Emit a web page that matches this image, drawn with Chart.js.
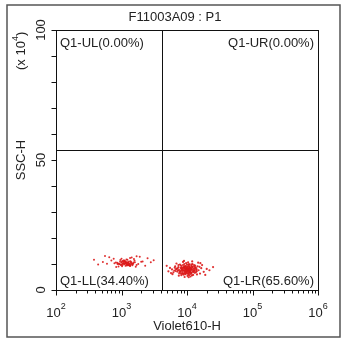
<!DOCTYPE html>
<html>
<head>
<meta charset="utf-8">
<script src="https://cdn.jsdelivr.net/npm/chart.js@4/dist/chart.umd.min.js"></script>
<style>
  html, body { margin: 0; padding: 0; background: #fff; }
  #wrap { width: 347px; height: 344px; position: relative; }
</style>
</head>
<body>
<div id="wrap"><canvas id="plot"></canvas></div>
<script>
// plot title and axis names
const title = 'F11003A09 : P1';
const xTitle = 'Violet610-H';
const yTitle = 'SSC-H';

// axis ranges and ticks (y in units of 10^4)
const xDecades = [2, 3, 4, 5, 6];
const yTicks = [0, 10, 20, 30, 40, 50, 60, 70, 80, 90, 100];
const yLabels = [0, 50, 100];

// quadrant gate position
const gateX = 4200;
const gateY = 54;

// quadrant labels
const quadNames = ['Q1-UL(0.00%)', 'Q1-UR(0.00%)', 'Q1-LL(34.40%)', 'Q1-LR(65.60%)'];

// events in lower-left cluster [Violet610-H, SSC-H]
const llEvents = [
    [1050, 10.2], [1180, 10.6], [920, 9.9], [1300, 11.0], [1420, 10.3], [980, 9.6], [1120, 11.2],
    [1250, 9.8], [860, 10.5], [1510, 10.1], [1090, 11.4], [1340, 9.4], [1010, 10.8], [1200, 10.0],
    [1600, 10.7], [780, 10.3], [1150, 9.3], [1280, 10.4], [950, 10.9], [1380, 9.7], [1060, 10.1],
    [1230, 11.6], [1470, 9.5], [890, 10.2], [1130, 11.1], [1320, 9.9], [700, 11.3], [1800, 10.0],
    [1020, 9.1], [1160, 10.5], [1270, 10.3], [1400, 10.8], [990, 9.7], [1210, 9.4], [1550, 11.9],
    [820, 10.6], [1100, 10.2], [1310, 9.8], [2100, 11.0], [600, 10.1], [1080, 10.4], [1190, 11.7],
    [1360, 9.2], [940, 10.0], [1240, 10.7], [1700, 9.6], [1030, 11.2], [1140, 10.3], [1450, 9.9],
    [2500, 12.2], [520, 10.8], [1290, 9.5], [1170, 10.6], [870, 10.0], [1650, 8.9], [1060, 11.1],
    [1220, 9.8], [1390, 10.4], [960, 11.5], [1120, 10.2], [2000, 10.9], [650, 12.6], [1260, 9.7],
    [1480, 10.1], [1000, 10.5], [1330, 9.4], [1100, 11.0], [1190, 9.9], [900, 9.0], [1580, 11.3],
    [760, 12.0], [2300, 9.3], [1350, 12.3], [440, 9.8], [1900, 12.8], [1250, 10.5], [1110, 10.0],
    [1370, 11.1], [1040, 9.6], [1520, 10.6], [1160, 10.9], [1280, 9.6], [380, 11.6], [2800, 10.7],
    [560, 13.1], [3100, 11.4], [1700, 13.0], [830, 8.8], [1430, 12.5], [1000, 12.0], [1300, 10.2]
];

// events in lower-right cluster [Violet610-H, SSC-H]
const lrEvents = [
    [9500, 7.8], [10500, 8.2], [8800, 7.4], [11200, 7.0], [12000, 8.6], [9000, 8.9], [10000, 7.2],
    [11800, 7.9], [8200, 8.1], [13000, 7.5], [9800, 6.8], [10800, 8.4], [7600, 7.7], [12500, 6.9],
    [9300, 9.2], [10300, 7.6], [14000, 8.0], [8500, 6.6], [11000, 8.8], [9700, 7.1], [10700, 9.5],
    [7200, 8.3], [12800, 7.3], [9100, 8.5], [10200, 6.4], [11500, 7.8], [8000, 7.0], [13500, 8.7],
    [9600, 7.9], [10900, 6.7], [6800, 8.0], [12200, 9.0], [9400, 6.3], [11300, 8.1], [8700, 9.6],
    [10400, 7.4], [15000, 7.6], [7900, 7.3], [11700, 6.5], [9900, 8.3], [10600, 9.9], [6400, 7.5],
    [12600, 8.2], [8900, 5.9], [11100, 7.2], [9200, 8.7], [16500, 8.4], [7400, 8.8], [10100, 7.5],
    [13200, 6.6], [8300, 7.6], [11600, 9.3], [9500, 6.1], [10800, 7.7], [5900, 7.9], [12300, 7.1],
    [8600, 8.4], [14500, 9.1], [9700, 10.3], [11400, 6.2], [7700, 6.9], [10300, 8.0], [18000, 7.0],
    [8100, 9.4], [12900, 8.9], [9300, 7.3], [11900, 5.6], [6600, 9.1], [10500, 6.0], [13800, 7.7],
    [8400, 7.9], [10000, 9.7], [5500, 8.5], [11200, 8.5], [9000, 6.4], [15800, 6.3], [7300, 7.6],
    [12100, 10.0], [9600, 7.0], [10700, 8.9], [20000, 8.1], [8800, 8.6], [11000, 6.9], [6200, 6.8],
    [13300, 9.4], [9800, 8.5], [10200, 5.4], [7800, 9.8], [12700, 7.4], [9100, 7.6], [17000, 9.6],
    [8600, 6.2], [11500, 8.3], [5200, 7.2], [10400, 10.6], [14200, 6.0], [9400, 9.0], [7000, 8.2],
    [12400, 5.8], [10900, 7.3], [22000, 7.6], [8200, 5.7], [11800, 9.8], [9900, 6.6], [6900, 10.2],
    [13600, 8.5], [10100, 8.7], [7500, 5.5], [16000, 10.3], [8700, 10.8], [11300, 5.2], [9200, 5.0],
    [25000, 8.8], [4900, 9.3], [12000, 11.0], [10600, 4.9], [19000, 5.8], [6000, 6.1], [14800, 10.5],
    [9000, 11.2], [10400, 7.9], [9700, 8.1], [11100, 7.6], [8900, 7.7], [10600, 7.1], [9300, 8.3],
    [8300, 8.8], [10900, 8.0], [12300, 7.7], [7100, 7.1], [9600, 9.1], [11600, 6.7], [8000, 8.5],
    [10200, 9.0], [13100, 8.1], [7600, 6.4], [9200, 6.9], [11900, 8.9], [6500, 8.6], [14100, 7.2],
    [8500, 7.3], [10700, 6.5], [9800, 7.5], [12800, 9.6], [7400, 9.6], [11400, 7.4], [5700, 6.5],
    [15500, 8.9], [9100, 10.0], [10800, 5.7], [8100, 6.3], [13700, 6.9], [6700, 7.3], [11000, 9.9]
];

const FONT = 'Arial, "Liberation Sans", sans-serif';
const INK = '#222';

function toPoints(events) {
    return events.map(e => ({ x: e[0], y: e[1] }));
}

// draws frame, gate, ticks and all labels from the chart's own scales
const flowDecor = {
    id: 'flowDecor',
    afterDraw(chart) {
        const ctx = chart.ctx;
        const xs = chart.scales.x;
        const ys = chart.scales.y;
        const area = chart.chartArea;
        ctx.save();

        // outer frame
        ctx.strokeStyle = '#555';
        ctx.lineWidth = 1.5;
        ctx.strokeRect(7, 5, 333, 332);

        // plot box
        ctx.strokeStyle = '#111';
        ctx.lineWidth = 1;
        ctx.strokeRect(area.left + 0.5, area.top + 0.5, area.right - area.left, area.bottom - area.top);

        // quadrant gate
        const gx = Math.round(xs.getPixelForValue(gateX)) + 0.5;
        const gy = Math.round(ys.getPixelForValue(gateY)) + 0.5;
        ctx.beginPath();
        ctx.moveTo(gx, area.top);
        ctx.lineTo(gx, area.bottom);
        ctx.moveTo(area.left, gy);
        ctx.lineTo(area.right, gy);
        ctx.stroke();

        // x ticks (log, with minor ticks)
        const axisY = area.bottom + 0.5;
        ctx.beginPath();
        xDecades.forEach((d, i) => {
            const base = Math.pow(10, d);
            const px = Math.round(xs.getPixelForValue(base)) + 0.5;
            ctx.moveTo(px, axisY);
            ctx.lineTo(px, axisY + 5);
            if (i < xDecades.length - 1) {
                for (let m = 2; m <= 9; m++) {
                    const mx = Math.round(xs.getPixelForValue(base * m)) + 0.5;
                    ctx.moveTo(mx, axisY);
                    ctx.lineTo(mx, axisY + 3);
                }
            }
        });
        // y ticks
        const axisX = area.left + 0.5;
        yTicks.forEach(v => {
            const py = Math.round(ys.getPixelForValue(v)) + 0.5;
            ctx.moveTo(axisX, py);
            ctx.lineTo(axisX - 5, py);
        });
        ctx.stroke();

        ctx.fillStyle = INK;

        // x tick labels 10^n
        xDecades.forEach(d => {
            const px = xs.getPixelForValue(Math.pow(10, d));
            ctx.font = '13px ' + FONT;
            const w1 = ctx.measureText('10').width;
            ctx.font = '9px ' + FONT;
            const w2 = ctx.measureText(String(d)).width;
            const x0 = px - (w1 + w2) / 2;
            ctx.textAlign = 'left';
            ctx.textBaseline = 'alphabetic';
            ctx.font = '13px ' + FONT;
            ctx.fillText('10', x0, 317);
            ctx.font = '9px ' + FONT;
            ctx.fillText(String(d), x0 + w1, 309);
        });

        // y tick labels, rotated
        ctx.font = '13px ' + FONT;
        yLabels.forEach(v => {
            const py = ys.getPixelForValue(v);
            ctx.save();
            ctx.translate(45, py);
            ctx.rotate(-Math.PI / 2);
            ctx.textAlign = 'center';
            ctx.textBaseline = 'alphabetic';
            ctx.fillText(String(v), 0, 0);
            ctx.restore();
        });

        // title
        ctx.textAlign = 'center';
        ctx.textBaseline = 'middle';
        ctx.font = '13px ' + FONT;
        ctx.fillText(title, 175, 17);

        // x axis title
        ctx.fillText(xTitle, (area.left + area.right) / 2, 326);

        // y axis title and multiplier
        ctx.save();
        ctx.translate(25, ys.getPixelForValue(50));
        ctx.rotate(-Math.PI / 2);
        ctx.textBaseline = 'alphabetic';
        ctx.fillText(yTitle, 0, 0);
        ctx.restore();

        ctx.save();
        ctx.translate(25, 70);
        ctx.rotate(-Math.PI / 2);
        ctx.textAlign = 'left';
        ctx.textBaseline = 'alphabetic';
        ctx.font = '13px ' + FONT;
        ctx.fillText('(x 10', 0, 0);
        let w = ctx.measureText('(x 10').width;
        ctx.font = '9px ' + FONT;
        ctx.fillText('4', w, -7);
        w += ctx.measureText('4').width;
        ctx.font = '13px ' + FONT;
        ctx.fillText(')', w, 0);
        ctx.restore();

        // quadrant labels
        ctx.font = '13px ' + FONT;
        ctx.textBaseline = 'middle';
        ctx.textAlign = 'left';
        ctx.fillText(quadNames[0], area.left + 4, area.top + 13);
        ctx.fillText(quadNames[2], area.left + 4, area.bottom - 9);
        ctx.textAlign = 'right';
        ctx.fillText(quadNames[1], area.right - 4, area.top + 13);
        ctx.fillText(quadNames[3], area.right - 4, area.bottom - 9);

        ctx.restore();
    }
};

const chart = new Chart(document.getElementById('plot'), {
    type: 'scatter',
    data: {
        datasets: [
            {
                label: 'Q1-LL',
                data: toPoints(llEvents),
                backgroundColor: 'rgba(220, 25, 25, 0.9)',
                borderWidth: 0,
                pointRadius: 1
            },
            {
                label: 'Q1-LR',
                data: toPoints(lrEvents),
                backgroundColor: 'rgba(220, 25, 25, 0.9)',
                borderWidth: 0,
                pointRadius: 1.1
            }
        ]
    },
    options: {
        responsive: true,
        maintainAspectRatio: false,
        animation: false,
        layout: { padding: { left: 56, right: 29, top: 30, bottom: 54 } },
        plugins: {
            legend: { display: false },
            tooltip: { enabled: false }
        },
        scales: {
            x: { type: 'logarithmic', min: 100, max: 1000000, display: false },
            y: { type: 'linear', min: 0, max: 100, display: false }
        }
    },
    plugins: [flowDecor]
});
</script>
</body>
</html>
